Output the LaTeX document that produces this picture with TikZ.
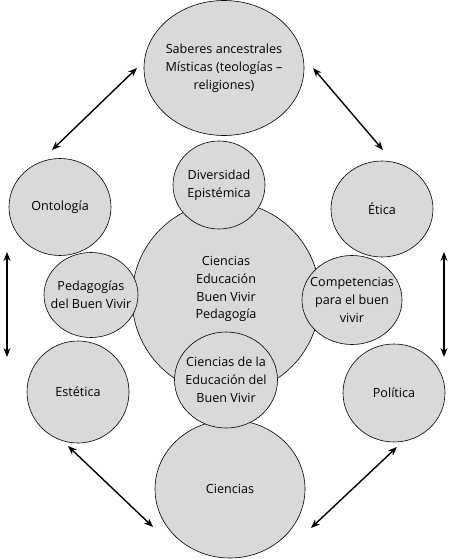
\documentclass[tikz,border=0pt]{standalone}
\usepackage{fontspec}
\setmainfont{Open Sans}
\usetikzlibrary{arrows.meta,shapes.geometric}
\definecolor{cfill}{RGB}{217,217,219}
\tikzset{
  bub/.style={ellipse, draw=black, line width=0.6pt, fill=cfill, inner sep=0pt,
    minimum width=#1},
  txt/.style={align=center, font=\fontsize{12.6}{17.8}\selectfont, inner sep=0pt},
  dbl/.style={{Stealth[length=9pt,width=7pt]}-{Stealth[length=9pt,width=7pt]}, line width=1.4pt},
}
\begin{document}
\begin{tikzpicture}[x=1pt,y=-1pt]
\useasboundingbox (0,0) rectangle (450,559);
\node[bub=160pt, minimum height=135pt, label={[txt]center:Saberes ancestrales\\Místicas (teologías –\\religiones)}] (sab) at (224,68) {};
\node[bub=102pt, minimum height=97pt, label={[txt]center:Ontología}] (ont) at (60,207) {};
\node[bub=102pt, minimum height=96pt, label={[txt]center:Ética}] (eti) at (382,209) {};
\node[bub=102pt, minimum height=102pt, label={[txt]center:Estética}] (est) at (78,392) {};
\node[bub=102pt, minimum height=98pt, label={[txt]center:Política}] (pol) at (394,393) {};
\node[bub=150pt, minimum height=138pt, label={[txt]center:Ciencias}] (cie) at (230,489) {};
\node[bub=188pt, minimum height=192pt] (big) at (226,298) {};
\node[txt] (bigt) at (226,289) {Ciencias\\Educación\\Buen Vivir\\Pedagogía};
\node[bub=92pt, minimum height=88pt, label={[txt]center:Diversidad\\Epistémica}] (div) at (219,185) {};
\node[bub=94pt, minimum height=85pt, label={[txt]center:Pedagogías\\del Buen Vivir}] (ped) at (91,295) {};
\node[bub=100pt, minimum height=89pt, label={[txt]center:Competencias\\para el buen\\vivir}] (com) at (352,300) {};
\node[bub=103pt, minimum height=96pt, label={[txt]center:Ciencias de la\\Educación del\\Buen Vivir}] (ced) at (226,380) {};
% arrow ends
\coordinate (a1) at (52,150); \coordinate (a2) at (137,68);
\coordinate (b1) at (313,68); \coordinate (b2) at (383,150);
\coordinate (c1) at (7,252); \coordinate (c2) at (7,357);
\coordinate (d1) at (444,252); \coordinate (d2) at (444,357);
\coordinate (e1) at (68,446); \coordinate (e2) at (153,527);
\coordinate (f1) at (311,528); \coordinate (f2) at (397,447);
\draw[dbl] (a1) -- (a2);
\draw[dbl] (b1) -- (b2);
\draw[dbl] (c1) -- (c2);
\draw[dbl] (d1) -- (d2);
\draw[dbl] (e1) -- (e2);
\draw[dbl] (f1) -- (f2);
\end{tikzpicture}
\end{document}
